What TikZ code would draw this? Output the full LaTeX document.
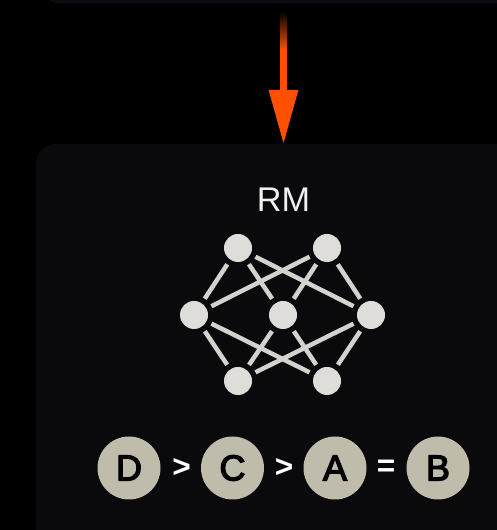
\documentclass[tikz,border=0pt]{standalone}
\usepackage{fontspec}
\setmainfont{Liberation Sans}
\newfontfamily\rangofont[FakeBold=3.5]{Liberation Sans}
\usepackage{tikz}
\usetikzlibrary{shapes,positioning,calc}
\usetikzlibrary{arrows.meta}
\definecolor{fondo}{HTML}{0A0A0D}
\definecolor{fondotop}{HTML}{0C0C10}
\definecolor{freccia}{HTML}{FF5000}
\definecolor{neurone}{HTML}{DEDDDA}
\definecolor{sabbia}{HTML}{BFBCAC}
\tikzstyle{blocco} = [rectangle, rounded corners=0.4cm, minimum height=2cm, inner sep=0pt, outer sep=0pt]
\tikzstyle{neuro} = [circle, fill=neurone, minimum size=0.56cm, inner sep=0pt, outer sep=0.11cm]
\tikzstyle{rango} = [circle, fill=sabbia, text=black, minimum size=1.26cm, inner sep=0pt, font=\fontsize{20.5}{21}\rangofont]
\tikzstyle{segno} = [text=white, inner sep=0pt, font=\fontsize{18}{18}\selectfont\bfseries]
\tikzstyle{sinapsi} = [line width=0.09cm, draw=neurone!95!black]
\tikzstyle{scia} = [rectangle, minimum width=0.12cm, minimum height=0.78cm, inner sep=0pt, outer sep=0pt, top color=black, bottom color=freccia]
\tikzstyle{arrow} = [line width=0.125cm, draw=freccia, -{Triangle[length=1.08cm, width=0.56cm]}]

\begin{document}
\begin{tikzpicture}
	\useasboundingbox (0,0) rectangle (9.94,10.6);
	\clip (0,0) rectangle (9.94,10.6);
	\fill[black] (0,0) rectangle (9.94,10.6);
	\node (top) at (5.67,11.53) [blocco,fill=fondotop,minimum width=9.74cm] {};
	\node (rm) at (5.67,3.16) [blocco,fill=fondo,minimum width=9.9cm,minimum height=9.12cm] {};
	\node (glow) at (5.67,9.98) [scia] {};
	\draw[arrow] (glow) -- (rm);
	\node (rmlabel) at (5.67,6.6) [text=white!94!black,font=\fontsize{19.5}{20}\selectfont] {RM};
	\node (tl) at (4.76,5.64) [neuro] {};
	\node (tr) at (6.54,5.64) [neuro] {};
	\node (l) at (3.88,4.3) [neuro] {};
	\node (c) at (5.66,4.3) [neuro] {};
	\node (r) at (7.42,4.3) [neuro] {};
	\node (bl) at (4.76,2.98) [neuro] {};
	\node (br) at (6.54,2.98) [neuro] {};
	\foreach \a/\b in {tl/l,tl/c,tl/r,tr/l,tr/c,tr/r,bl/l,bl/c,bl/r,br/l,br/c,br/r}
		\draw[sinapsi] (\a) -- (\b);
	\node (d) at (2.58,1.24) [rango] {D};
	\node (gt1) at (3.63,1.24) [segno] {>};
	\node (cc) at (4.65,1.24) [rango] {C};
	\node (gt2) at (5.68,1.24) [segno] {>};
	\node (a) at (6.70,1.24) [rango] {A};
	\node (eq) at (7.72,1.24) [segno] {=};
	\node (b) at (8.76,1.24) [rango] {B};
\end{tikzpicture}
\end{document}
